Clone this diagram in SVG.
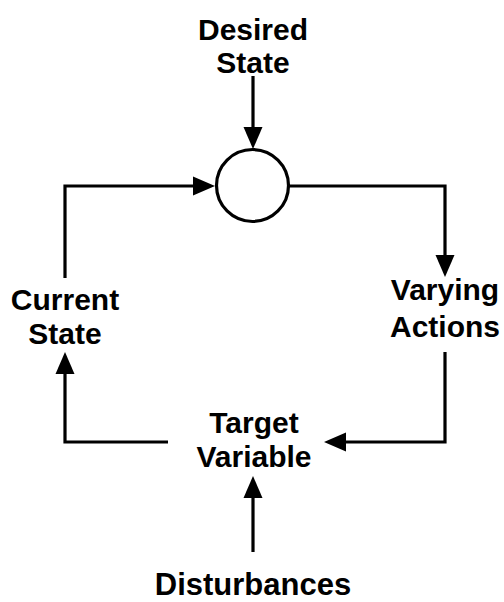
<svg xmlns="http://www.w3.org/2000/svg" width="504" height="602" viewBox="0 0 504 602">
<style>
.lbl{font-family:"Liberation Sans",Arial,sans-serif;font-weight:bold;font-size:30px;fill:#000;text-anchor:middle}
.big{font-size:31px}
.con{fill:none;stroke:#000;stroke-width:3.2;stroke-linejoin:miter}
</style>
<defs>
<marker id="arr" markerUnits="userSpaceOnUse" markerWidth="24" markerHeight="20" refX="0" refY="9.5" orient="auto" overflow="visible">
<path d="M0,0 L22,9.5 L0,19 Z" fill="#000"/>
</marker>
</defs>
<rect width="504" height="602" fill="#fff"/>
<g id="connectors">
<path class="con" d="M253,76 V127" marker-end="url(#arr)"/>
<path class="con" d="M65,278 V186 H193" marker-end="url(#arr)"/>
<path class="con" d="M289,186 H445 V255" marker-end="url(#arr)"/>
<path class="con" d="M445,352 V442 H346" marker-end="url(#arr)"/>
<path class="con" d="M168,442 H65 V374" marker-end="url(#arr)"/>
<path class="con" d="M253,552 V498" marker-end="url(#arr)"/>
</g>
<g id="comparator">
<circle cx="252.5" cy="185.5" r="36" fill="#fff" stroke="#000" stroke-width="3.2"/>
</g>
<g id="desired-state">
<text class="lbl" x="253" y="40">Desired</text>
<text class="lbl" x="253" y="73">State</text>
</g>
<g id="current-state">
<text class="lbl" x="65" y="310">Current</text>
<text class="lbl" x="65" y="344">State</text>
</g>
<g id="varying-actions">
<text class="lbl" x="445" y="300">Varying</text>
<text class="lbl" x="445" y="337">Actions</text>
</g>
<g id="target-variable">
<text class="lbl" x="254" y="433">Target</text>
<text class="lbl" x="254" y="467">Variable</text>
</g>
<g id="disturbances">
<text class="lbl big" x="253" y="595">Disturbances</text>
</g>
</svg>
